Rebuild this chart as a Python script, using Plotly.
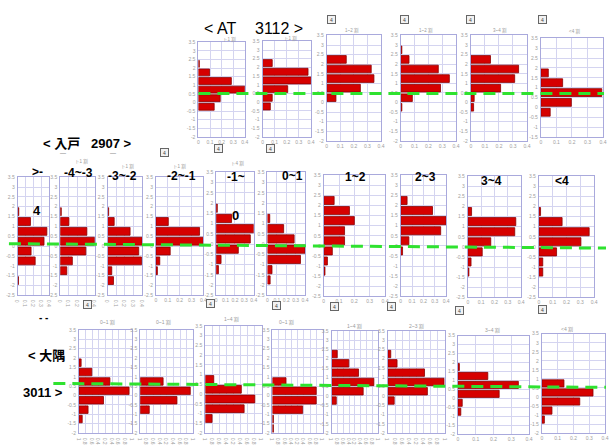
import plotly.graph_objects as go

W, H = 610, 445

# ---------------- data ----------------
# bar lengths (share of panel's max), bins listed from top to bottom
at_values = [
    [0, 0, 0.02, 0.24, 0.71, 1.00, 0.47, 0.34, 0, 0, 0],
    [0, 0, 0.20, 0.94, 1.00, 0.52, 0.20, 0.16, 0, 0, 0],
    [0, 0, 0.36, 0.82, 0.87, 0.62, 0.17, 0, 0, 0, 0],
    [0, 0.02, 0.15, 0.68, 0.88, 0.72, 0.21, 0.02, 0, 0, 0],
    [0, 0, 0.35, 0.85, 0.78, 0.53, 0.06, 0.05, 0, 0, 0],
    [0, 0, 0, 0.12, 0.35, 0.98, 0.49, 0.15, 0, 0],
]
at_titles = ["ト1 割", "ト1 割", "1~2 割", "1~2 割", "3~4 割", "<4 割"]

irito_labels = [">-", "-4~-3", "-3~-2", "-2~-1", "-1~", "0~1", "1~2", "2~3", "3~4", "<4"]
irito_values = [
    [0, 0, 0, 0.03, 0.40, 0.92, 0.83, 0.42, 0.55, 0, 0.02, 0],
    [0, 0, 0, 0.03, 0.25, 0.77, 0.99, 0.74, 0.35, 0.19, 0, 0],
    [0, 0, 0, 0.03, 0.19, 0.65, 1.00, 0.90, 0.98, 0.12, 0.17, 0],
    [0, 0, 0, 0, 0.26, 0.92, 1.00, 0.30, 0.08, 0.03, 0, 0],
    [0, 0, 0, 0.03, 0.41, 1.00, 0.91, 0.59, 0.13, 0.06, 0, 0],
    [0, 0, 0, 0, 0.06, 0.43, 0.71, 1.00, 0.88, 0.12, 0.07, 0],
    [0, 0, 0.17, 0.42, 0.50, 0.34, 0.34, 0.14, 0.06, 0.02, 0, 0],
    [0, 0, 0.14, 0.70, 1.00, 0.88, 0.18, 0.04, 0, 0, 0, 0],
    [0, 0, 0, 0.07, 0.90, 0.88, 0.43, 0.27, 0.06, 0.02, 0, 0],
    [0, 0, 0, 0.03, 0.42, 0.91, 0.76, 0.32, 0.07, 0.07, 0, 0],
]
irito_titles = ["", "ト1 割", "ト1 割", "ト1 割", "ト4 割", "", "", "", "", ""]

osumi_values = [
    [0, 0, 0, 0.04, 0.24, 0.58, 0.94, 0.46, 0.17, 0.06, 0],
    [0, 0, 0, 0, 0, 0.43, 0.94, 0.69, 0.17, 0, 0],
    [0, 0, 0, 0, 0, 0.15, 0.64, 0.88, 0.69, 0.12, 0],
    [0, 0, 0, 0, 0, 0.27, 0.87, 0.87, 0.60, 0.02, 0.02],
    [0, 0, 0.12, 0.37, 0.58, 0.91, 0.68, 0.10, 0, 0, 0],
    [0, 0, 0.05, 0.16, 0.64, 0.98, 0.69, 0.11, 0, 0, 0],
    [0, 0, 0, 0.02, 0.42, 0.85, 0.58, 0.06, 0.04, 0, 0],
    [0, 0, 0, 0, 0, 0.35, 0.81, 0.60, 0.16, 0.04, 0],
]
osumi_titles = ["0~1 割", "0~1 割", "1~4 割", "0~1 割", "1~4 割", "2~3 割", "3~4 割", "<4 割"]

edge_labels = ["3.5", "3", "2.5", "2", "1.5", "1", "0.5", "0", "-0.5", "-1", "-1.5", "-2", "-2.5"]
x_labels_4 = ["0", "0.1", "0.2", "0.3", "0.4"]
x_labels_8 = ["1", "0.8", "0.6", "0.4", "0.2", "0.4", "0.6", "0.8", "1"]

# ---------------- layout (pixel boxes: left, right, top, bottom) ----------------
at_boxes = [(197, 244, 40, 136), (262, 311, 39, 136), (327, 382, 33, 140),
            (402, 458, 33, 140), (473, 530, 33, 140), (544, 607, 36, 136)]
at_xdiv = [4, 4, 4, 4, 4, 4]
at_title_pos = [(228, 37), (290, 36.5), (353, 28), (428, 28), (503, 28), (578, 29)]

irito_boxes = [(14, 46, 177, 297), (57, 92, 177, 297), (105, 140, 177, 297),
               (154, 202, 177, 297), (215, 253, 172, 297), (267, 305, 172, 297),
               (324, 386, 175, 298), (402, 448, 175, 298), (470, 524, 176, 299),
               (542, 598, 176, 299)]
irito_xdiv = [4] * 10
irito_label_pos = [(34, 172), (75, 173), (120, 176), (180, 176), (235, 177),
                   (292, 176), (356, 177), (427, 177), (494, 181), (565, 181)]
irito_title_pos = [(0, 0), (79, 161.5), (125, 166), (178, 166), (237, 163),
                   (0, 0), (0, 0), (0, 0), (0, 0), (0, 0)]

osumi_boxes = [(76, 130, 332, 437), (138, 192, 332, 437), (204, 261, 328, 437),
               (272, 323, 332, 437), (332, 379, 333, 437), (389, 447, 333, 437),
               (460, 532, 338, 438), (545, 609, 336, 437)]
osumi_xdiv = [8, 8, 8, 8, 8, 8, 4, 4]
osumi_title_pos = [(105, 325), (162, 325), (231, 322), (286, 325),
                   (355, 329), (418, 329), (495, 333), (570, 332)]

icon_pos = [(332, 12), (406, 12), (477, 12), (550, 12),
            (158, 147), (217, 143), (270, 143),
            (80, 311), (209, 310), (276, 312), (335, 313), (393, 313), (466, 317), (550, 316)]

BAR_FILL = "#d60000"
BAR_EDGE = "#8a0000"
GRID = "#d4d4f0"
FRAME = "#a9a9dc"
TICK = dict(size=5, color="#a0a0a0", family="Liberation Sans, Arial")

fig = go.Figure()
layout = dict(
    width=W, height=H, autosize=False,
    margin=dict(l=0, r=0, t=0, b=0),
    paper_bgcolor="white", plot_bgcolor="white",
    showlegend=False,
    font=dict(family="Liberation Sans, Arial, Noto Sans CJK JP"),
)

panel_idx = [0]


def add_panel(box, values, xdiv):
    panel_idx[0] += 1
    i = panel_idx[0]
    sfx = "" if i == 1 else str(i)
    l, r, t, b = box
    n = len(values)
    ys = [k + 0.5 for k in range(n)]
    xs = [v if v > 0 else None for v in values]
    fig.add_trace(go.Bar(
        x=xs, y=ys, orientation="h", width=0.8,
        marker=dict(color=BAR_FILL, line=dict(color=BAR_EDGE, width=0.8)),
        xaxis="x" + sfx, yaxis="y" + sfx, hoverinfo="skip",
    ))
    xt = x_labels_4 if xdiv == 4 else x_labels_8
    layout["xaxis" + sfx] = dict(
        domain=[l / W, r / W], anchor="y" + sfx, range=[0, 1.0],
        tickvals=[k / xdiv for k in range(xdiv + 1)], ticktext=xt,
        showgrid=True, gridcolor=GRID, gridwidth=0.8, zeroline=False,
        showline=True, linecolor=FRAME, linewidth=1, mirror=True,
        ticks="", tickfont=TICK, ticklabelstandoff=0, fixedrange=True,
    )
    layout["yaxis" + sfx] = dict(
        domain=[1 - b / H, 1 - t / H], anchor="x" + sfx, range=[n, 0],
        tickvals=list(range(n + 1)), ticktext=edge_labels[: n + 1],
        showgrid=True, gridcolor=GRID, gridwidth=0.8, zeroline=False,
        showline=True, linecolor=FRAME, linewidth=1, mirror=True,
        ticks="", tickfont=TICK, ticklabelstandoff=1, fixedrange=True,
    )


for box, vals, xd in zip(at_boxes, at_values, at_xdiv):
    add_panel(box, vals, xd)
for box, vals, xd in zip(irito_boxes, irito_values, irito_xdiv):
    add_panel(box, vals, xd)
for box, vals, xd in zip(osumi_boxes, osumi_values, osumi_xdiv):
    add_panel(box, vals, xd)

ann = []


def text(x, y, s, size, bold=False, color="black", xanchor="center", family=None):
    ann.append(dict(
        x=x / W, y=1 - y / H, xref="paper", yref="paper", showarrow=False,
        text=("<b>%s</b>" % s) if bold else s, xanchor=xanchor, yanchor="middle",
        font=dict(size=size, color=color,
                  family=family or "Liberation Sans, Arial, Noto Sans CJK JP"),
    ))


# group headings
text(201, 26, "&lt; AT", 16, xanchor="left")
text(252, 26, "3112 &gt;", 16, xanchor="left")
text(37, 143, "&lt; 入戸", 13, bold=True, xanchor="left")
text(86, 143, "2907 &gt;", 13, bold=True, xanchor="left")
text(22, 358, "&lt; 大隅", 13, bold=True, xanchor="left")
text(17, 396, "3011 &gt;", 13, bold=True, xanchor="left")
text(33, 211, "4", 13, bold=True)
text(235, 216, "0", 13, bold=True)
text(40, 320, "- -", 10, bold=True)

for lab, (x, y) in zip(irito_labels, irito_label_pos):
    text(x, y, lab, 12, bold=True)

GRAY = "#9a9a9a"
for s, (x, y) in zip(at_titles, at_title_pos):
    text(x, y, s, 4.5, color=GRAY)
for s, (x, y) in zip(irito_titles, irito_title_pos):
    if s:
        text(x, y, s, 4.5, color=GRAY)
for s, (x, y) in zip(osumi_titles, osumi_title_pos):
    text(x, y, s, 5, color=GRAY)

for (x, y) in icon_pos:
    ann.append(dict(
        x=x / W, y=1 - y / H, xref="paper", yref="paper", showarrow=False,
        text="&nbsp;4&nbsp;", font=dict(size=5, color="#444"),
        bordercolor="#666", borderwidth=1, borderpad=0.5, bgcolor="#f2f2f2",
    ))
for (x, y) in [(60, 152), (110, 152)]:
    text(x, y, "—", 6, color="#555")

layout["annotations"] = ann

# green dashed reference lines (one per group)
ref_lines = [((197, 92), (608, 92)), ((5, 244.5), (610, 249)), ((50, 386.5), (610, 390.5))]
layout["shapes"] = [
    dict(type="line", xref="paper", yref="paper",
         x0=a[0] / W, y0=1 - a[1] / H, x1=b[0] / W, y1=1 - b[1] / H,
         line=dict(color="#2fe22f", width=3, dash="12px,7px"), layer="above")
    for a, b in ref_lines
]

fig.update_layout(**layout)
fig.write_html("out.html", config={"displayModeBar": False},
               post_script="document.body.style.margin='0';")
